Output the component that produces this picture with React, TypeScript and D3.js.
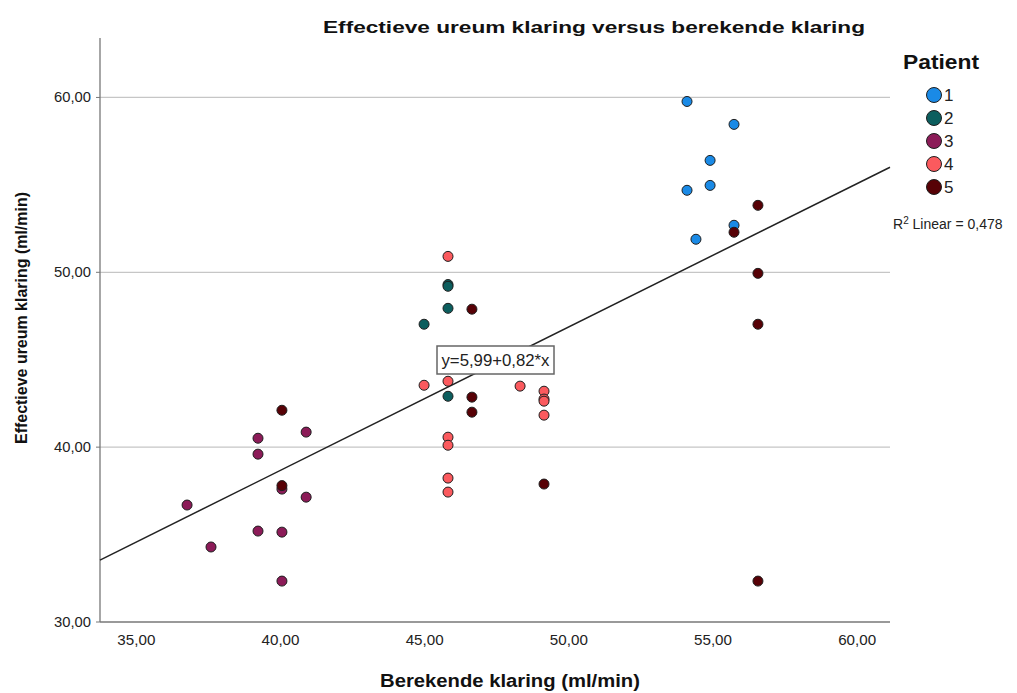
import React from 'react';
import * as d3 from 'd3';

// Berekende klaring (x) / effectieve ureum klaring (y) per patient
const patient1: [number, number][] = [
  [53.96, 59.77], [55.59, 58.46], [54.76, 56.4], [54.76, 54.97],
  [53.96, 54.69], [54.27, 51.89], [55.59, 52.69],
];
const patient2: [number, number][] = [
  [45.67, 49.3], [45.67, 49.2], [45.67, 47.94], [44.84, 47.03], [45.67, 42.91],
];
const patient3: [number, number][] = [
  [36.62, 36.69], [37.45, 34.29], [39.08, 40.51], [39.08, 39.6], [39.08, 35.2],
  [39.91, 37.6], [39.91, 35.14], [39.91, 32.34], [40.75, 40.86], [40.75, 37.14],
];
const patient4: [number, number][] = [
  [45.67, 50.91], [44.84, 43.54], [45.67, 43.77], [45.67, 40.57], [45.67, 40.11],
  [45.67, 38.23], [45.67, 37.43], [48.17, 43.49], [49.0, 43.2], [49.0, 42.75],
  [49.0, 42.63], [49.0, 41.83],
];
const patient5: [number, number][] = [
  [56.42, 53.83], [55.59, 52.29], [56.42, 49.94], [56.42, 47.03], [56.42, 32.34],
  [46.5, 47.89], [46.5, 42.86], [46.5, 42.0], [49.0, 37.89], [39.91, 42.11], [39.91, 37.8],
];

const patients = ['1', '2', '3', '4', '5'];
const patientData = [patient1, patient2, patient3, patient4, patient5];
const patientColors = ['#1a8ae6', '#0c5e5e', '#8c1b58', '#fb5a5e', '#570106'];

const xTicks = [35, 40, 45, 50, 55, 60];
const yTicks = [30, 40, 50, 60];
const intercept = 5.99;
const slope = 0.82;
const r2Label = '0,478';

const fmt = (v: number) => v.toFixed(2).replace('.', ',');

export default function App() {
  const W = 1017;
  const H = 693;
  const x = d3.scaleLinear().domain([33.6, 61]).range([100, 890]);
  const y = d3.scaleLinear().domain([30, 63.4]).range([622, 38]);
  const [x0, x1] = x.domain();
  const line = d3.line<number>().x(d => x(d)).y(d => y(intercept + slope * d));

  // draw order: 1..5 so later patients lie on top
  const dots = patientData.flatMap((pts, i) => pts.map((p, j) => ({ p, i, j })));

  return (
    <svg width={W} height={H} style={{ position: 'absolute', left: 0, top: 0, background: '#fff' }}
      fontFamily="'Liberation Sans', Arial, sans-serif">
      <text x={594} y={33} textAnchor="middle" fontSize={17} fontWeight="bold" fill="#111"
        textLength={542} lengthAdjust="spacingAndGlyphs">
        Effectieve ureum klaring versus berekende klaring
      </text>

      {/* grid */}
      {yTicks.filter(t => t > 30).map(t => (
        <line key={t} x1={x(x0)} x2={x(x1)} y1={y(t)} y2={y(t)} stroke="#c6c6c6" strokeWidth={1.3} />
      ))}

      {/* axes */}
      <line x1={x(x0)} x2={x(x0)} y1={y(63.4)} y2={y(30)} stroke="#777" strokeWidth={1.3} />
      <line x1={x(x0)} x2={x(x1)} y1={y(30)} y2={y(30)} stroke="#777" strokeWidth={1.3} />
      {yTicks.map(t => (
        <g key={t}>
          <line x1={x(x0) - 4} x2={x(x0)} y1={y(t)} y2={y(t)} stroke="#777" />
          <text x={x(x0) - 9} y={y(t) + 5} textAnchor="end" fontSize={14} fill="#222"
            textLength={37} lengthAdjust="spacingAndGlyphs">{fmt(t)}</text>
        </g>
      ))}
      {xTicks.map(t => (
        <text key={t} x={x(t) - 4} y={645} textAnchor="middle" fontSize={14} fill="#222"
          textLength={38} lengthAdjust="spacingAndGlyphs">{fmt(t)}</text>
      ))}

      <text transform={`translate(27,318) rotate(-90)`} textAnchor="middle" fontSize={17} fontWeight="bold"
        fill="#111" textLength={252} lengthAdjust="spacingAndGlyphs">
        Effectieve ureum klaring (ml/min)
      </text>
      <text x={510} y={687} textAnchor="middle" fontSize={18} fontWeight="bold" fill="#111"
        textLength={260} lengthAdjust="spacingAndGlyphs">
        Berekende klaring (ml/min)
      </text>

      {/* fit line */}
      <path d={line([x0, x1]) ?? ''} fill="none" stroke="#222" strokeWidth={1.5} />

      {dots.map(({ p, i, j }) => (
        <circle key={`${i}-${j}`} cx={x(p[0])} cy={y(p[1])} r={5} fill={patientColors[i]}
          stroke="#1e1e1e" strokeWidth={1} />
      ))}

      {/* equation label */}
      <rect x={437} y={346} width={117} height={28} fill="#fff" stroke="#666" strokeWidth={1.5} />
      <text x={495.5} y={366} textAnchor="middle" fontSize={16} fill="#222"
        textLength={108} lengthAdjust="spacingAndGlyphs">y=5,99+0,82*x</text>

      {/* legend */}
      <text x={903} y={69} fontSize={20} fontWeight="bold" fill="#111"
        textLength={76} lengthAdjust="spacingAndGlyphs">Patient</text>
      {patients.map((p, i) => (
        <g key={p} transform={`translate(934,${95 + i * 23})`}>
          <circle r={7.5} fill={patientColors[i]} stroke="#1e1e1e" strokeWidth={1} />
          <text x={10} y={6} fontSize={17} fill="#222">{p}</text>
        </g>
      ))}
      <text x={893} y={229} fontSize={14} fill="#222">
        R<tspan dy={-5} fontSize={10}>2</tspan><tspan dy={5}> Linear = {r2Label}</tspan>
      </text>
    </svg>
  );
}
